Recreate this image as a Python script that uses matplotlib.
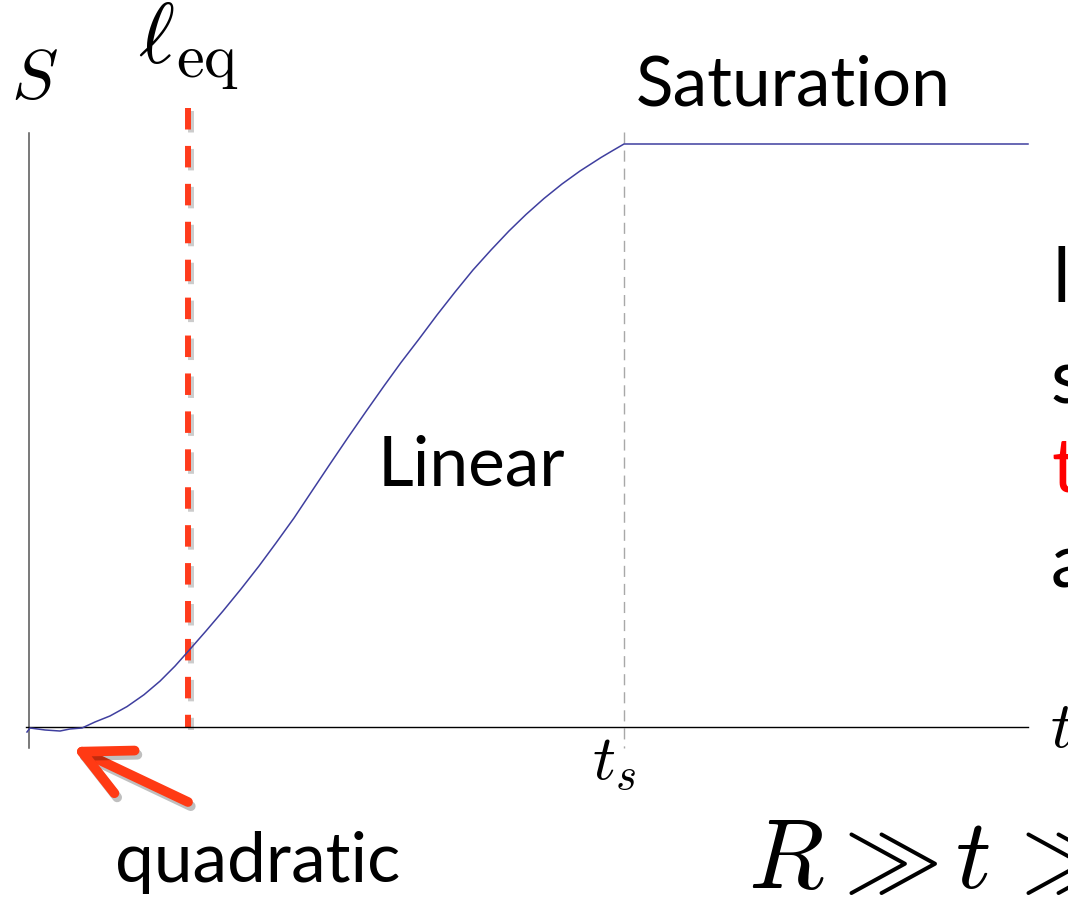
import matplotlib
matplotlib.use("Agg")
import matplotlib.pyplot as plt
import matplotlib.patheffects as pe

plt.rcParams['mathtext.fontset'] = 'cm'

# entanglement growth S(t): slight dip, quadratic onset, linear rise, saturation
T = [-0.0034, 0.0017, 0.0269, 0.0521, 0.0689, 0.0891, 0.1109, 0.1361, 0.1647,
     0.1933, 0.2202, 0.2454, 0.2689, 0.2975, 0.3261, 0.3563, 0.3866, 0.4151,
     0.4454, 0.4756, 0.5059, 0.5361, 0.5664, 0.5966, 0.6252, 0.6555, 0.6857,
     0.7160, 0.7462, 0.7765, 0.8067, 0.8353, 0.8655, 0.8958, 0.9261, 0.9613,
     0.9798, 1.0000, 1.6790]
S = [-0.0086, -0.0017, -0.0051, -0.0069, -0.0034, -0.0017, 0.0086, 0.0189, 0.0350,
     0.0554, 0.0787, 0.1045, 0.1314, 0.1647, 0.1990, 0.2367, 0.2762, 0.3156,
     0.3585, 0.4048, 0.4511, 0.4966, 0.5412, 0.5849, 0.6252, 0.6655, 0.7067,
     0.7461, 0.7839, 0.8182, 0.8508, 0.8791, 0.9065, 0.9314, 0.9537, 0.9768,
     0.9880, 1.0000, 1.0000]

T_S = 1.0      # saturation time
L_EQ = 0.267   # equilibration length

W, H = 1068, 918
fig = plt.figure(figsize=(W / 100, H / 100), dpi=100, facecolor='white')
ax = fig.add_axes([0, 0, 1, 1])
ax.set_xlim(-29 / 595, 1039 / 595)
ax.set_ylim((727 - 918) / 583, 727 / 583)
ax.set_facecolor('white')

for side in ['top', 'right']:
    ax.spines[side].set_visible(False)
ax.spines['left'].set_position(('data', 0))
ax.spines['left'].set_bounds(-0.036, 1.019)
ax.spines['left'].set_color('#555555')
ax.spines['left'].set_linewidth(1.1)
ax.spines['bottom'].set_position(('data', 0))
ax.spines['bottom'].set_bounds(-0.005, 1.679)
ax.spines['bottom'].set_color('black')
ax.spines['bottom'].set_linewidth(1.0)
ax.set_xticks([])
ax.set_yticks([])

ax.plot(T, S, color='#3f3f9f', lw=1.1, zorder=3, solid_joinstyle='round')

# saturation time marker, dashed from the top down
ax.plot([T_S, T_S], [1.020, -0.036], color='#a8a8a8', lw=1.0, ls=(0, (8, 5)))

# equilibration length marker, dashed from the top down
shadow = [pe.SimpleLineShadow(offset=(2, -2), shadow_color='k', alpha=0.2), pe.Normal()]
ax.plot([L_EQ, L_EQ], [1.062, 0.0], color='#ff3b1c', lw=4.3, ls=(0, (3.6, 2.75)),
        solid_capstyle='butt', path_effects=shadow, zorder=2)

def px(x, y):
    return x / W, 1 - y / H

sans = 'Lato'

fig.text(*px(11, 98), r'$S$', fontsize=50, va='baseline', ha='left')
fig.text(*px(138, 63), r'$\ell$', fontsize=62, va='baseline', ha='left')
fig.text(*px(176, 77), r'$\mathrm{eq}$', fontsize=45, va='baseline', ha='left')
fig.text(*px(636, 105), 'Saturation', fontsize=50, family=sans, va='baseline', ha='left')
fig.text(*px(378, 485), 'Linear', fontsize=50, family=sans, va='baseline', ha='left')
fig.text(*px(115, 882), 'quadratic', fontsize=50, family=sans, va='baseline', ha='left')
fig.text(*px(592, 780), r'$t_s$', fontsize=46, va='baseline', ha='left')
fig.text(*px(1050, 747), r'$t$', fontsize=47, va='baseline', ha='left')

# R >> t >> condition along the bottom
fig.text(*px(748, 888), r'$R$', fontsize=71, va='baseline', ha='left')
fig.text(*px(826, 888), r'$\gg$', fontsize=71, va='baseline', ha='left')
fig.text(*px(955, 888), r'$t$', fontsize=71, va='baseline', ha='left')
fig.text(*px(1003, 888), r'$\gg$', fontsize=71, va='baseline', ha='left')

fig.text(*px(1053, 302), 'l', fontsize=54, family=sans, va='baseline', ha='left')
fig.text(*px(1051, 404), 's', fontsize=54, family=sans, va='baseline', ha='left')
fig.text(*px(1051, 492), 't', fontsize=54, family=sans, va='baseline', ha='left', color='#ff0000')
fig.text(*px(1051, 588), 'a', fontsize=54, family=sans, va='baseline', ha='left')

# arrow pointing at the quadratic onset
ax.annotate('', xy=(72, H - 747), xycoords='figure pixels',
            xytext=(188, H - 802), textcoords='figure pixels',
            arrowprops=dict(arrowstyle='->,head_length=1.7,head_width=0.85',
                            mutation_scale=20, lw=7.0, color='#ff3a14',
                            capstyle='round', joinstyle='round',
                            shrinkA=0, shrinkB=0,
                            path_effects=[pe.SimpleLineShadow(offset=(2, -3), shadow_color='k', alpha=0.25),
                                          pe.Normal()]))

fig.savefig('out.png', dpi=100, facecolor='white')
